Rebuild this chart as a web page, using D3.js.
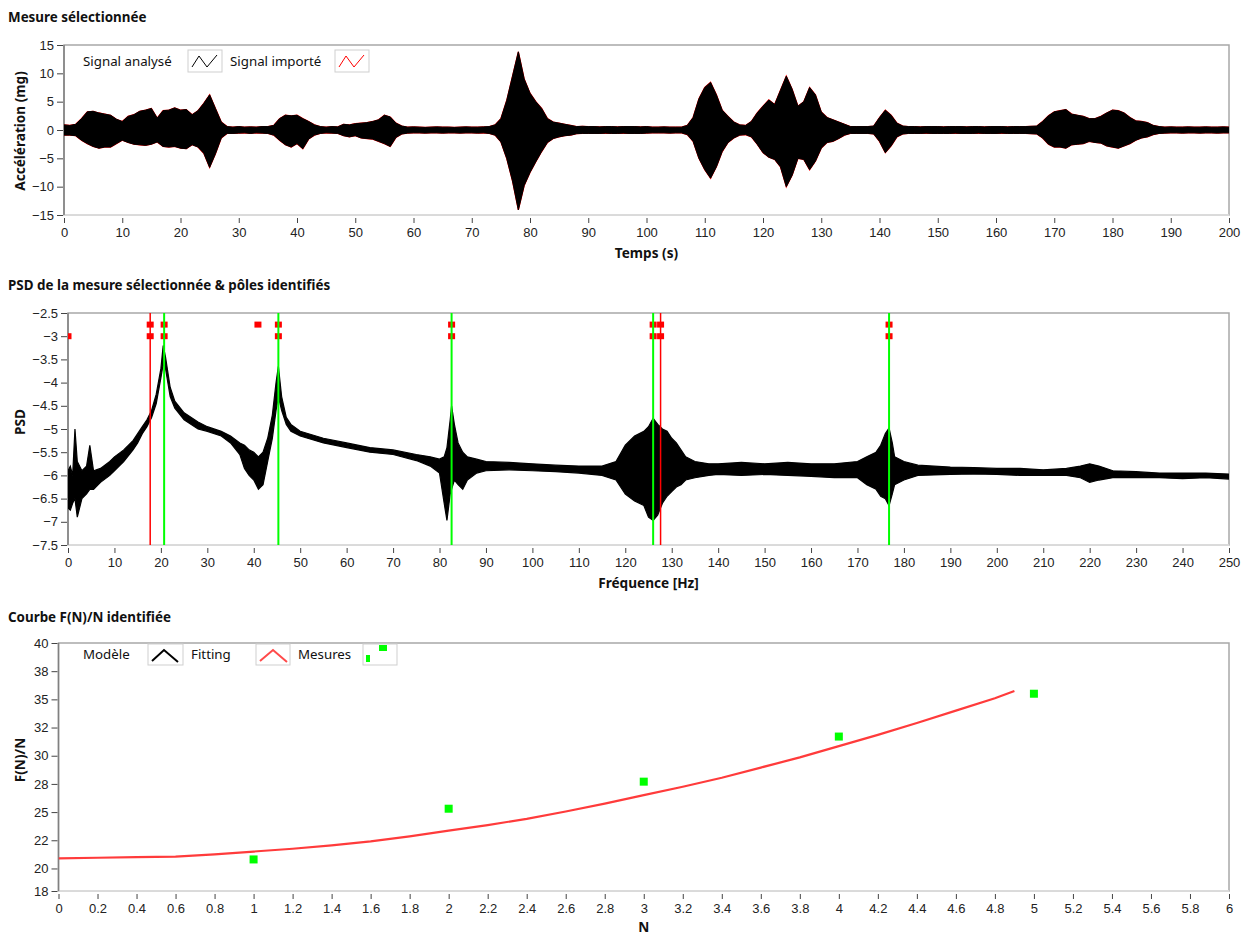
<!DOCTYPE html>
<html>
<head>
<meta charset="utf-8">
<script src="https://cdn.jsdelivr.net/npm/d3@7"></script>
<style>
  html, body { margin: 0; background: #fff; }
  svg { display: block; font-family: "Noto Sans", "Open Sans", sans-serif; }
  .title { font-weight: bold; font-size: 13.4px; fill: #111; }
  .axis-title { font-weight: bold; font-size: 13.6px; fill: #111; }
  .tick text { font-size: 13px; fill: #222; }
  .legend text { font-size: 13.3px; fill: #111; }
</style>
</head>
<body>
<svg id="chart" width="1248" height="936"></svg>
<script>
/* ── data ──────────────────────────────────────────────────────── */

// Mesure sélectionnée: envelope (max / min per second) of the acceleration, mg
const ACC_HI = [
  0.9, 0.8, 1.0, 2.0, 3.2, 3.3, 3.0, 2.8, 2.6, 1.9,
  1.5, 2.4, 2.7, 3.3, 3.5, 3.8, 2.1, 3.4, 3.5, 3.9,
  3.5, 3.6, 2.7, 3.4, 4.7, 6.2, 3.8, 1.4, 0.6, 0.5,
  0.6, 0.5, 0.55, 0.5, 0.6, 0.6, 0.8, 2.0, 2.6, 2.5,
  2.6, 2.0, 1.5, 0.9, 0.6, 0.5, 0.6, 0.55, 1.0, 0.9,
  1.1, 1.2, 1.3, 1.5, 1.8, 2.6, 2.3, 1.2, 0.7, 0.5,
  0.55, 0.5, 0.45, 0.5, 0.55, 0.5, 0.5, 0.45, 0.5, 0.55,
  0.5, 0.5, 0.55, 0.6, 0.9, 2.0, 5.2, 9.5, 13.8, 9.0,
  6.5, 5.0, 3.8, 2.0, 1.4, 1.2, 1.0, 0.8, 0.6, 0.65,
  0.6, 0.6, 0.55, 0.6, 0.6, 0.55, 0.6, 0.6, 0.6, 0.55,
  0.6, 0.5, 0.5, 0.55, 0.5, 0.5, 0.5, 0.8, 2.2, 5.5,
  7.5, 8.4, 6.2, 3.5, 2.4, 1.4, 0.9, 0.8, 1.5, 3.0,
  4.2, 5.3, 4.5, 7.0, 9.5, 7.2, 4.2, 5.0, 7.5, 6.2,
  3.2, 2.2, 1.8, 1.4, 1.0, 0.6, 0.6, 0.6, 0.6, 0.7,
  2.2, 3.5, 2.6, 1.2, 0.7, 0.6, 0.6, 0.55, 0.6, 0.6,
  0.6, 0.55, 0.6, 0.6, 0.6, 0.55, 0.6, 0.6, 0.55, 0.6,
  0.6, 0.6, 0.55, 0.6, 0.6, 0.6, 0.65, 0.7, 1.5, 2.5,
  3.2, 3.4, 3.6, 2.8, 2.6, 2.4, 2.0, 2.0, 2.4, 3.0,
  3.5, 3.4, 3.0, 2.2, 1.6, 1.5, 1.3, 0.8, 0.6, 0.5,
  0.55, 0.5, 0.5, 0.55, 0.5, 0.5, 0.55, 0.5, 0.5, 0.55, 0.5
];
const ACC_LO = [
  -0.9, -0.9, -1.0, -1.8, -2.4, -2.9, -3.2, -3.0, -3.0, -2.4,
  -1.8, -2.2, -2.5, -2.6, -2.7, -2.5, -2.1, -2.9, -3.0, -2.9,
  -3.2, -3.3, -2.6, -3.0, -4.1, -6.6, -4.2, -1.4, -0.6, -0.6,
  -0.55, -0.5, -0.6, -0.5, -0.55, -0.6, -0.9, -1.8, -2.6, -3.0,
  -2.4, -3.3, -1.6, -0.9, -0.6, -0.5, -0.55, -0.6, -1.0, -1.2,
  -1.0, -1.4, -1.5, -1.6, -2.0, -2.4, -2.9, -1.3, -0.7, -0.55,
  -0.5, -0.5, -0.55, -0.5, -0.5, -0.55, -0.5, -0.5, -0.55, -0.5,
  -0.5, -0.55, -0.5, -0.6, -0.9, -2.1, -5.0, -9.0, -14.1, -9.8,
  -7.5, -5.6, -3.8, -2.2, -1.5, -1.2, -1.0, -0.9, -0.65, -0.6,
  -0.6, -0.6, -0.6, -0.55, -0.6, -0.6, -0.55, -0.6, -0.6, -0.6,
  -0.55, -0.5, -0.5, -0.5, -0.55, -0.5, -0.5, -0.8, -2.0, -5.0,
  -7.0, -8.5, -6.5, -3.8, -2.2, -1.4, -0.9, -0.8, -1.2, -2.5,
  -4.0, -4.8, -5.2, -6.5, -10.0, -8.0, -5.0, -5.2, -7.0, -5.5,
  -3.2, -2.2, -2.0, -1.5, -0.9, -0.6, -0.6, -0.6, -0.6, -0.7,
  -2.0, -4.0, -2.8, -1.2, -0.7, -0.6, -0.6, -0.6, -0.55, -0.6,
  -0.6, -0.6, -0.6, -0.55, -0.6, -0.6, -0.6, -0.55, -0.6, -0.6,
  -0.6, -0.55, -0.6, -0.6, -0.6, -0.6, -0.65, -0.7, -1.4, -2.5,
  -3.0, -3.0, -3.2, -2.6, -2.5, -2.4, -2.0, -2.2, -2.3, -2.8,
  -3.0, -3.2, -2.8, -2.4, -1.8, -1.4, -1.2, -0.8, -0.6, -0.55,
  -0.5, -0.5, -0.55, -0.5, -0.5, -0.55, -0.5, -0.5, -0.55, -0.5, -0.5
];

// PSD: frequency (Hz) with upper / lower envelope of the log PSD
const PSD_F = [
  0, 0.5, 1, 1.5, 2, 3, 4, 4.7, 5.5, 7, 9, 10, 12, 14, 15, 16, 17, 18, 19, 20,
  20.5, 21, 22, 23, 25, 28, 30, 33, 35, 37, 38, 39, 40, 41, 42, 43, 44, 44.8, 45.3, 46,
  47, 48, 50, 55, 60, 65, 70, 75, 78, 80, 81, 81.6, 82.3, 82.6, 83.2, 84, 85, 86, 88, 90,
  95, 100, 105, 110, 115, 118, 120, 122, 124, 125, 126, 127, 128, 129, 130, 131, 132, 133, 135, 138,
  140, 145, 150, 155, 160, 165, 170, 172, 174, 175, 176, 176.8, 177.5, 178, 180, 183, 190, 195, 200, 205,
  210, 215, 218, 220, 222, 225, 230, 235, 240, 245, 250
];
const PSD_HI = [
  -5.9, -5.8, -6.0, -5.0, -5.7, -5.9, -5.8, -5.35, -5.9, -5.85, -5.7, -5.6, -5.45, -5.25, -5.1, -4.95, -4.8, -4.6, -4.25, -3.7,
  -3.2, -3.45, -4.1, -4.4, -4.65, -4.85, -4.95, -5.05, -5.15, -5.3, -5.35, -5.45, -5.5, -5.6, -5.5, -5.2, -4.7, -4.0, -3.65, -4.3,
  -4.75, -4.9, -5.05, -5.2, -5.3, -5.4, -5.45, -5.55, -5.6, -5.65, -5.6, -5.4, -4.8, -4.5, -4.9, -5.3, -5.5, -5.6, -5.65, -5.7,
  -5.72, -5.75, -5.78, -5.8, -5.8, -5.7, -5.35, -5.15, -5.05, -4.95, -4.77, -4.9, -5.0, -5.05, -5.2, -5.3, -5.45, -5.6, -5.7, -5.75,
  -5.75, -5.72, -5.75, -5.72, -5.75, -5.75, -5.7, -5.6, -5.5, -5.35, -5.1, -4.98, -5.3, -5.6, -5.7, -5.78, -5.82, -5.83, -5.85, -5.85,
  -5.88, -5.85, -5.8, -5.75, -5.8, -5.9, -5.92, -5.95, -5.95, -5.95, -5.97
];
const PSD_LO = [
  -6.7, -6.75, -6.6, -6.5, -6.9, -6.5, -6.4, -6.3, -6.3, -6.15, -6.0, -5.9, -5.7, -5.45, -5.3, -5.1, -4.95, -4.75, -4.45, -3.9,
  -3.6, -3.7, -4.3, -4.55, -4.8, -5.0, -5.05, -5.15, -5.3, -5.55, -5.85, -6.0, -6.1, -6.3, -6.2, -5.7, -5.2, -4.6, -4.3, -4.6,
  -4.9, -5.05, -5.15, -5.3, -5.4, -5.5, -5.55, -5.68, -5.8, -5.95, -6.6, -6.97, -6.4, -6.3, -6.1, -6.2, -6.3, -6.1, -5.95, -5.9,
  -5.88, -5.9, -5.92, -5.95, -6.0, -6.1, -6.4, -6.55, -6.65, -6.9, -6.97, -6.85, -6.6, -6.45, -6.35, -6.25, -6.2, -6.1, -6.05, -6.0,
  -5.98, -6.0, -5.98, -6.0, -6.02, -6.05, -6.05, -6.2, -6.3, -6.45, -6.5, -6.65, -6.4, -6.2, -6.1, -6.0, -5.98, -5.97, -5.98, -6.0,
  -6.0, -6.0, -6.05, -6.15, -6.1, -6.05, -6.05, -6.05, -6.07, -6.05, -6.08
];

// identified poles (Hz)
const POLES_RED = [17.7, 127.6];
const POLES_GREEN = [20.7, 45.3, 82.6, 126.0, 176.8];
const MARKS_TOP = [17.7, 20.7, 40.9, 45.3, 82.6, 126.0, 127.6, 176.8];   // at -2.75
const MARKS_LOW = [0, 17.7, 20.7, 45.3, 82.6, 126.0, 127.6, 176.8];      // at -3
const MARK_LEVELS = [-2.75, -3];

// Courbe F(N)/N
const FIT_N = [0, 0.2, 0.4, 0.6, 0.8, 1.0, 1.2, 1.4, 1.6, 1.8, 2.0, 2.2, 2.4, 2.6, 2.8,
               3.0, 3.2, 3.4, 3.6, 3.8, 4.0, 4.2, 4.4, 4.6, 4.8, 4.9];
const FIT_V = [20.9, 20.95, 21.0, 21.05, 21.25, 21.5, 21.75, 22.05, 22.4, 22.85, 23.35, 23.85, 24.4, 25.05, 25.75,
               26.5, 27.25, 28.05, 28.95, 29.85, 30.85, 31.85, 32.9, 34.0, 35.1, 35.75];
const MES_N = [1, 2, 3, 4, 5];
const MES_V = [20.8, 25.3, 27.7, 31.7, 35.5];

// tick values / labels
const ACC_XTICKS = d3.range(0, 201, 10);
const ACC_YTICKS = [-15, -10, -5, 0, 5, 10, 15];
const PSD_XTICKS = d3.range(0, 251, 10);
const PSD_YTICKS = [-7.5, -7, -6.5, -6, -5.5, -5, -4.5, -4, -3.5, -3, -2.5];
const FIT_XTICKS = d3.range(0, 31).map(i => i / 5);
const FIT_YTICKS = [18, 20, 22.5, 25, 27.5, 30, 32.5, 35, 37.5, 40];
const FIT_YLABELS = ["18", "20", "22", "25", "28", "30", "32", "35", "38", "40"];

/* ── drawing ───────────────────────────────────────────────────── */
(function () {
  const svg = d3.select("#chart");
  const defs = svg.append("defs");

  const RED = "#ff0000", GREEN = "#00ff00";

  // one framed plot area with its axes
  function panel(id, box, xDom, yDom, o) {
    const x = d3.scaleLinear().domain(xDom).range([box.l, box.r]);
    const y = d3.scaleLinear().domain(yDom).range([box.b, box.t]);
    const g = svg.append("g").attr("class", "panel " + id);

    defs.append("clipPath").attr("id", "clip-" + id)
      .append("rect").attr("x", box.l).attr("y", box.t)
      .attr("width", box.r - box.l).attr("height", box.b - box.t);

    // frame
    g.append("rect").attr("x", box.l).attr("y", box.t)
      .attr("width", box.r - box.l).attr("height", box.b - box.t)
      .attr("fill", "#fff").attr("stroke", "#a8a8a8").attr("stroke-width", 1.5);
    g.append("line").attr("x1", box.l).attr("x2", box.r).attr("y1", box.b).attr("y2", box.b)
      .attr("stroke", "#e4e4e4").attr("stroke-width", 1.5);
    g.append("line").attr("x1", box.l).attr("x2", box.l).attr("y1", box.t).attr("y2", box.b)
      .attr("stroke", "#808080").attr("stroke-width", 1.5);

    const ax = d3.axisBottom(x).tickValues(o.xTicks).tickSize(5).tickPadding(5)
      .tickFormat(o.xFmt || (d => d3.format("~g")(d)));
    g.append("g").attr("transform", `translate(0,${box.b + 3})`).call(ax)
      .call(s => s.select(".domain").remove())
      .call(s => s.selectAll(".tick line").attr("stroke", "#444"));

    const ay = d3.axisLeft(y).tickValues(o.yTicks).tickSize(6).tickPadding(3)
      .tickFormat(o.yFmt || (d => d3.format("~g")(d)));
    g.append("g").attr("transform", `translate(${box.l - 1},0)`).call(ay)
      .call(s => s.select(".domain").remove())
      .call(s => s.selectAll(".tick line").attr("stroke", "#444"));
    g.selectAll(".tick text").attr("font-size", null).attr("fill", null).attr("font-family", null);

    // titles
    svg.append("text").attr("class", "title").attr("x", 8).attr("y", o.titleY).text(o.title);
    svg.append("text").attr("class", "axis-title").attr("text-anchor", "middle")
      .attr("x", (box.l + box.r) / 2 + o.xTitleDx).attr("y", o.xTitleY).text(o.xTitle);
    svg.append("text").attr("class", "axis-title").attr("text-anchor", "middle")
      .attr("transform", `translate(25,${o.yTitleCy}) rotate(-90)`).text(o.yTitle);

    const plot = g.append("g").attr("clip-path", `url(#clip-${id})`);
    return { x, y, g, plot };
  }

  // legend item: label then a small framed icon
  function legendIcon(g, x0, y0, w, h) {
    return g.append("rect").attr("x", x0).attr("y", y0).attr("width", w).attr("height", h)
      .attr("fill", "#fff").attr("stroke", "#cfcfcf").attr("stroke-width", 1);
  }

  /* ── 1. Mesure sélectionnée ─────────────────────────────────── */
  const p1 = panel("acc", { l: 64, r: 1229, t: 45, b: 215 }, [0, 200], [-15, 15], {
    xTicks: ACC_XTICKS, yTicks: ACC_YTICKS,
    title: "Mesure sélectionnée", titleY: 22,
    xTitle: "Temps (s)", xTitleY: 258, xTitleDx: 0,
    yTitle: "Accélération (mg)", yTitleCy: 131
  });
  // min/max envelope of the dense waveform
  const accArea = d3.area()
    .x((d, i) => p1.x(i))
    .y0((d, i) => p1.y(ACC_LO[i]))
    .y1((d, i) => p1.y(ACC_HI[i]));
  p1.plot.append("path").datum(ACC_HI).attr("d", accArea)
    .attr("fill", RED).attr("stroke", RED).attr("stroke-width", 1.3);
  p1.plot.append("path").datum(ACC_HI).attr("d", accArea)
    .attr("fill", "#000").attr("stroke", "#000").attr("stroke-width", 1);

  const lg1 = p1.g.append("g").attr("class", "legend");
  lg1.append("text").attr("x", 83).attr("y", 66).text("Signal analysé");
  legendIcon(lg1, 188, 50, 34, 22);
  lg1.append("path").attr("d", "M192,67L199,56L207,67L217,55").attr("fill", "none")
    .attr("stroke", "#000").attr("stroke-width", 1);
  lg1.append("text").attr("x", 230).attr("y", 66).text("Signal importé");
  legendIcon(lg1, 335, 50, 34, 22);
  lg1.append("path").attr("d", "M339,67L346,56L354,67L364,55").attr("fill", "none")
    .attr("stroke", RED).attr("stroke-width", 1);

  /* ── 2. PSD ─────────────────────────────────────────────────── */
  const p2 = panel("psd", { l: 68, r: 1229, t: 313, b: 545 }, [0, 250], [-7.5, -2.5], {
    xTicks: PSD_XTICKS, yTicks: PSD_YTICKS,
    title: "PSD de la mesure sélectionnée & pôles identifiés", titleY: 290,
    xTitle: "Fréquence [Hz]", xTitleY: 588, xTitleDx: 0,
    yTitle: "PSD", yTitleCy: 422
  });
  const psdArea = d3.area()
    .x((d, i) => p2.x(PSD_F[i]))
    .y0((d, i) => p2.y(PSD_LO[i]))
    .y1((d, i) => p2.y(PSD_HI[i]));
  p2.plot.append("path").datum(PSD_F).attr("d", psdArea)
    .attr("fill", "#000").attr("stroke", "#000").attr("stroke-width", 1.2);

  p2.plot.selectAll("line.pole-red").data(POLES_RED).join("line")
    .attr("class", "pole-red")
    .attr("x1", d => p2.x(d)).attr("x2", d => p2.x(d))
    .attr("y1", p2.y(-2.5)).attr("y2", p2.y(-7.5))
    .attr("stroke", RED).attr("stroke-width", 1.5);

  const marks = MARKS_TOP.map(f => ({ f, v: MARK_LEVELS[0] }))
    .concat(MARKS_LOW.map(f => ({ f, v: MARK_LEVELS[1] })));
  p2.plot.selectAll("rect.mark").data(marks).join("rect")
    .attr("class", "mark")
    .attr("x", d => p2.x(d.f) - 3.5).attr("y", d => p2.y(d.v) - 3)
    .attr("width", 7).attr("height", 6).attr("fill", RED);

  p2.plot.selectAll("line.pole-green").data(POLES_GREEN).join("line")
    .attr("class", "pole-green")
    .attr("x1", d => p2.x(d)).attr("x2", d => p2.x(d))
    .attr("y1", p2.y(-2.5)).attr("y2", p2.y(-7.5))
    .attr("stroke", GREEN).attr("stroke-width", 2);

  /* ── 3. Courbe F(N)/N ───────────────────────────────────────── */
  const p3 = panel("fit", { l: 58.5, r: 1229, t: 643, b: 891 }, [0, 6], [18, 40], {
    xTicks: FIT_XTICKS, yTicks: FIT_YTICKS,
    yFmt: d => FIT_YLABELS[FIT_YTICKS.indexOf(d)],
    title: "Courbe F(N)/N identifiée", titleY: 622,
    xTitle: "N", xTitleY: 932, xTitleDx: 0,
    yTitle: "F(N)/N", yTitleCy: 760
  });
  p3.plot.append("path").datum(FIT_N)
    .attr("d", d3.line().x(d => p3.x(d)).y((d, i) => p3.y(FIT_V[i])))
    .attr("fill", "none").attr("stroke", "#ff3b3b").attr("stroke-width", 2.2);
  p3.plot.selectAll("rect.mes").data(MES_N).join("rect")
    .attr("class", "mes")
    .attr("x", d => p3.x(d) - 4).attr("y", (d, i) => p3.y(MES_V[i]) - 4)
    .attr("width", 8).attr("height", 8).attr("fill", GREEN);

  const lg3 = p3.g.append("g").attr("class", "legend");
  lg3.append("text").attr("x", 83).attr("y", 659).text("Modèle");
  legendIcon(lg3, 148, 644, 35, 21);
  lg3.append("path").attr("d", "M152,661L164,650L178,662").attr("fill", "none")
    .attr("stroke", "#000").attr("stroke-width", 2);
  lg3.append("text").attr("x", 191).attr("y", 659).text("Fitting");
  legendIcon(lg3, 256, 644, 34, 21);
  lg3.append("path").attr("d", "M260,661L273,650L287,662").attr("fill", "none")
    .attr("stroke", "#ff4a4a").attr("stroke-width", 2);
  lg3.append("text").attr("x", 298).attr("y", 659).text("Mesures");
  legendIcon(lg3, 363, 644, 34, 21);
  lg3.append("rect").attr("x", 366).attr("y", 655).attr("width", 4).attr("height", 7).attr("fill", GREEN);
  lg3.append("rect").attr("x", 379).attr("y", 645).attr("width", 8).attr("height", 6).attr("fill", GREEN);
})();
</script>
</body>
</html>
